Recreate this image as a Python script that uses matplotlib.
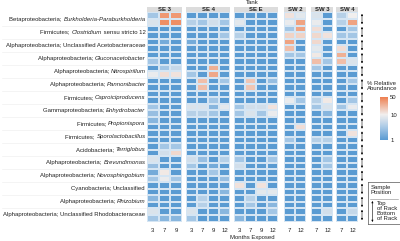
import numpy as np
import matplotlib
matplotlib.use("Agg")
import matplotlib.pyplot as plt
from matplotlib.colors import LinearSegmentedColormap, LogNorm
from matplotlib.cm import ScalarMappable

plt.rcParams['font.family'] = ['Liberation Sans', 'DejaVu Sans']

# --- datos ---
phyla = ["Betaproteobacteria", "Firmicutes", "Alphaproteobacteria", "Alphaproteobacteria",
         "Alphaproteobacteria", "Alphaproteobacteria", "Firmicutes", "Gammaproteobacteria",
         "Firmicutes", "Firmicutes", "Acidobacteria", "Alphaproteobacteria",
         "Alphaproteobacteria", "Cyanobacteria", "Alphaproteobacteria", "Alphaproteobacteria"]
genera = ["Burkholderia-Paraburkholderia", "Clostridium", "", "Gluconacetobacter",
          "Nitrospirillum", "Pannonibacter", "Caproiciproducens", "Enhydrobacter",
          "Propionispora", "Sporolactobacillus", "Terriglobus", "Brevundimonas",
          "Novosphingobium", "", "Rhizobium", ""]
suffixes = ["", " sensu stricto 12", "Unclassified Acetobacteraceae", "", "", "", "", "",
            "", "", "", "", "", "Unclassified", "", "Unclassified Rhodobacteraceae"]

tanks = ["SE 3", "SE 4", "SE E", "SW 2", "SW 3", "SW 4"]
months = {"SE 3": [3, 7, 9], "SE 4": [3, 7, 9, 12], "SE E": [3, 7, 9, 12],
          "SW 2": [7, 12], "SW 3": [7, 12], "SW 4": [7, 12]}

# % abundancia relativa, filas = taxon x (arriba, abajo del rack)
se3 = [[3, 35, 35], [7, 40, 40], [0.5, 0.5, 0.5], [0.5, 0.5, 0.5],
       [0.5, 1.5, 0.5], [0.5, 0.5, 0.5], [0.5, 0.5, 0.5], [3, 0.5, 0.5],
       [0.5, 3, 5], [9, 13, 12], [0.5, 0.5, 0.5], [0.5, 0.5, 0.5],
       [0.5, 0.5, 0.5], [0.5, 0.5, 0.5], [3, 0.5, 0.5], [2.5, 0.5, 0.5],
       [2, 0.5, 0.5], [0.5, 0.5, 0.5], [0.5, 0.5, 0.5], [0.5, 0.5, 0.5],
       [0.5, 3, 3], [0.5, 6, 14], [7, 0.5, 0.5], [2.5, 0.5, 0.5],
       [1.5, 11, 0.5], [3, 9, 3], [0.5, 0.5, 0.5], [0.5, 0.5, 0.5],
       [2, 0.5, 0.5], [0.5, 0.5, 0.5], [7, 0.5, 0.5], [3, 2, 2]]
se4 = [[0.5, 0.5, 0.5, 0.5], [4, 3, 6, 3], [0.5, 0.5, 0.5, 0.5], [0.5, 0.5, 0.5, 3],
       [1.5, 0.5, 0.5, 0.5], [0.5, 0.5, 0.5, 0.5], [0.5, 0.5, 0.5, 0.5], [0.5, 0.5, 0.5, 0.5],
       [0.5, 0.5, 25, 0.5], [3, 0.5, 28, 0.5], [0.5, 20, 0.5, 3], [0.5, 20, 0.5, 0.5],
       [0.5, 0.5, 0.5, 0.5], [0.5, 0.5, 3, 0.5], [7, 7, 2, 8], [4, 4, 3, 0.5],
       [0.5, 0.5, 0.5, 0.5], [0.5, 0.5, 0.5, 0.5], [0.5, 0.5, 0.5, 0.5], [0.5, 0.5, 0.5, 0.5],
       [0.5, 0.5, 0.5, 0.5], [0.5, 0.5, 0.5, 0.5], [6, 2.5, 0.5, 4], [3, 0.5, 1.5, 0.5],
       [0.5, 0.5, 3, 0.5], [0.5, 0.5, 0.5, 2.5], [0.5, 0.5, 0.5, 0.5], [0.5, 0.5, 0.5, 2],
       [0.5, 4, 0.5, 0.5], [0.5, 4, 0.5, 0.5], [7, 0.5, 0.5, 2], [3, 0.5, 0.5, 0.5]]
see = [[0.5, 0.5, 0.5, 0.5], [8, 0.5, 0.5, 0.5], [0.5, 0.5, 0.5, 0.5], [4, 0.5, 0.5, 0.5],
       [0.5, 0.5, 0.5, 0.5], [0.5, 0.5, 0.5, 0.5], [0.5, 0.5, 0.5, 0.5], [0.5, 0.5, 0.5, 0.5],
       [0.5, 0.5, 0.5, 0.5], [0.5, 0.5, 0.5, 0.5], [0.5, 18, 0.5, 2.5], [0.5, 18, 0.5, 0.5],
       [0.5, 0.5, 0.5, 0.5], [0.5, 0.5, 0.5, 0.5], [3, 6, 6, 12], [3, 7, 3, 9],
       [0.5, 0.5, 0.5, 0.5], [0.5, 0.5, 0.5, 0.5], [0.5, 0.5, 0.5, 0.5], [0.5, 0.5, 0.5, 0.5],
       [0.5, 0.5, 0.5, 0.5], [0.5, 0.5, 0.5, 0.5], [3, 0.5, 0.5, 3], [6, 0.5, 0.5, 0.5],
       [0.5, 0.5, 0.5, 0.5], [0.5, 0.5, 0.5, 0.5], [12, 0.5, 12, 0.5], [0.5, 0.5, 8, 8],
       [0.5, 4, 0.5, 0.5], [0.5, 3, 0.5, 2], [0.5, 0.5, 0.5, 3], [2, 0.5, 0.5, 0.5]]
sw2 = [[12, 8], [9, 30], [3, 30], [15, 15], [30, 0.5], [20, 0.5], [3, 3], [0.5, 0.5],
       [0.5, 0.5], [0.5, 0.5], [0.5, 0.5], [0.5, 0.5], [0.5, 0.5], [9, 3], [0.5, 0.5], [0.5, 0.5],
       [0.5, 0.5], [0.5, 13], [0.5, 0.5], [3, 0.5], [0.5, 0.5], [0.5, 0.5], [0.5, 0.5], [0.5, 0.5],
       [0.5, 0.5], [0.5, 0.5], [0.5, 0.5], [0.5, 0.5], [0.5, 0.5], [0.5, 0.5], [0.5, 0.5], [0.5, 0.5]]
sw3 = [[7, 0.5], [9, 0.5], [13, 0.5], [14, 12], [14, 0.5], [8, 0.5], [11, 0.5], [20, 3],
       [3, 0.5], [0.5, 0.5], [0.5, 0.5], [0.5, 0.5], [0.5, 0.5], [4, 11], [3, 7], [0.5, 2],
       [0.5, 0.5], [0.5, 0.5], [0.5, 0.5], [4, 4], [0.5, 0.5], [0.5, 0.5], [0.5, 3], [0.5, 3],
       [0.5, 0.5], [0.5, 0.5], [0.5, 0.5], [0.5, 0.5], [0.5, 0.5], [0.5, 0.5], [0.5, 6], [0.5, 0.5]]
sw4 = [[4, 10], [4, 30], [0.5, 3], [3, 3], [0.5, 0.5], [13, 0.5], [25, 0.5], [20, 7],
       [0.5, 0.5], [0.5, 0.5], [0.5, 3], [0.5, 0.5], [0.5, 0.5], [0.5, 3], [3, 9], [0.5, 0.5],
       [0.5, 0.5], [0.5, 0.5], [0.5, 12], [0.5, 0.5], [0.5, 0.5], [0.5, 0.5], [0.5, 0.5], [0.5, 0.5],
       [0.5, 0.5], [0.5, 0.5], [0.5, 0.5], [0.5, 0.5], [0.5, 0.5], [0.5, 0.5], [0.5, 5], [0.5, 0.5]]
panel_data = {"SE 3": se3, "SE 4": se4, "SE E": see, "SW 2": sw2, "SW 3": sw3, "SW 4": sw4}

# --- diseño (pixeles) ---
W, H = 400, 241
panel_x = {"SE 3": (147, 182), "SE 4": (186, 230), "SE E": (234, 278),
           "SW 2": (284, 306), "SW 3": (311, 333), "SW 4": (336, 358)}
Y_TOP, Y_BOT = 12.5, 221.5
FS = 4.3

cmap = LinearSegmentedColormap.from_list(
    "abund", [(0.0, "#5a9bd2"), (0.3, "#a9c9e6"), (0.589, "#f1efee"), (1.0, "#ee8051")])
norm = LogNorm(vmin=1, vmax=50, clip=True)

fig = plt.figure(figsize=(W / 100, H / 100), dpi=100)


def px_axes(x0, x1, y0, y1):
    return fig.add_axes([x0 / W, 1 - y1 / H, (x1 - x0) / W, (y1 - y0) / H])


n_rows = 2 * len(phyla)
for tank in tanks:
    x0, x1 = panel_x[tank]
    ax = px_axes(x0, x1, Y_TOP, Y_BOT)
    vals = np.array(panel_data[tank], dtype=float)
    ax.pcolormesh(vals, cmap=cmap, norm=norm, edgecolors="#d5e5f3", linewidth=0.22)
    ax.set_ylim(n_rows, 0)
    ax.set_xlim(0, vals.shape[1])
    ax.set_xticks(np.arange(vals.shape[1]) + 0.5)
    ax.set_xticklabels([str(m) for m in months[tank]], fontsize=FS, color="#222222")
    ax.set_yticks([])
    ax.tick_params(axis="x", length=0, pad=4.5)
    for s in ax.spines.values():
        s.set_visible(False)
    # tira superior
    sax = px_axes(x0, x1, 6.5, 12)
    sax.set_facecolor("#dcdcdc")
    sax.set_xticks([])
    sax.set_yticks([])
    for s in sax.spines.values():
        s.set_visible(False)
    sax.text(0.5, 0.45, tank, ha="center", va="center", fontsize=FS, fontweight="bold",
             color="#222222", transform=sax.transAxes)

fig.text(252 / W, 1 - 3 / H, "Tank", ha="center", va="center", fontsize=FS, color="#222222")
fig.text(252 / W, 1 - 237 / H, "Months Exposed", ha="center", va="center", fontsize=FS,
         color="#222222")

# etiquetas de taxones
renderer = fig.canvas.get_renderer()
row_h = (Y_BOT - Y_TOP) / len(phyla)
for i in range(len(phyla)):
    yc = 1 - (Y_TOP + row_h * (i + 0.5)) / H
    x_right = 145.5
    parts = [(phyla[i] + "; ", "normal"), (genera[i], "italic"), (suffixes[i], "normal")]
    for txt, style in reversed(parts):
        if not txt:
            continue
        t = fig.text(x_right / W, yc, txt, ha="right", va="center", fontsize=FS,
                     style=style, color="#222222")
        bb = t.get_window_extent(renderer)
        x_right = bb.x0
    if i > 0:
        yl = 1 - (Y_TOP + row_h * i) / H
        fig.add_artist(plt.Line2D([2 / W, 146 / W], [yl, yl], color="#ececec", lw=0.4))

# flechas de posicion
aax = px_axes(358, 366, Y_TOP, Y_BOT)
aax.set_xlim(0, 1)
aax.set_ylim(n_rows, 0)
aax.axis("off")
for i in range(len(phyla)):
    aax.annotate("", xy=(0.5, 2 * i + 0.2), xytext=(0.5, 2 * i + 1.8),
                 arrowprops=dict(arrowstyle="<|-|>", lw=0.4, mutation_scale=2.5,
                                 color="black", shrinkA=0, shrinkB=0))

# barra de color
fig.text(367 / W, 1 - 86 / H, "% Relative\nAbundance", ha="left", va="center",
         fontsize=FS, color="#222222", linespacing=1.1)
cax = px_axes(380, 388, 97, 140)
cb = fig.colorbar(ScalarMappable(norm=norm, cmap=cmap), cax=cax, ticks=[1, 10, 50])
cb.ax.set_yticklabels(["1", "10", "50"])
cb.ax.tick_params(length=0, labelsize=FS, pad=1.5, colors="#222222")
cb.ax.minorticks_off()
cb.outline.set_visible(False)

# leyenda de posicion
lax = px_axes(368, 399.5, 182, 224)
lax.set_xlim(0, 1)
lax.set_ylim(42, 0)
lax.set_xticks([])
lax.set_yticks([])
for s in lax.spines.values():
    s.set_color("#555555")
    s.set_linewidth(0.5)
lax.text(0.08, 3, "Sample\nPosition", ha="left", va="top", fontsize=FS, color="#222222",
         linespacing=1.1)
lax.plot([0.06, 0.94], [16.5, 16.5], color="#888888", lw=0.4)
lax.annotate("", xy=(0.14, 19), xytext=(0.14, 40),
             arrowprops=dict(arrowstyle="<|-|>", lw=0.4, mutation_scale=2.5,
                             color="black", shrinkA=0, shrinkB=0))
lax.text(0.27, 18.5, "Top\nof Rack\nBottom\nof Rack", ha="left", va="top", fontsize=FS,
         color="#222222", linespacing=1.05)

fig.savefig("out.png", dpi=100)
